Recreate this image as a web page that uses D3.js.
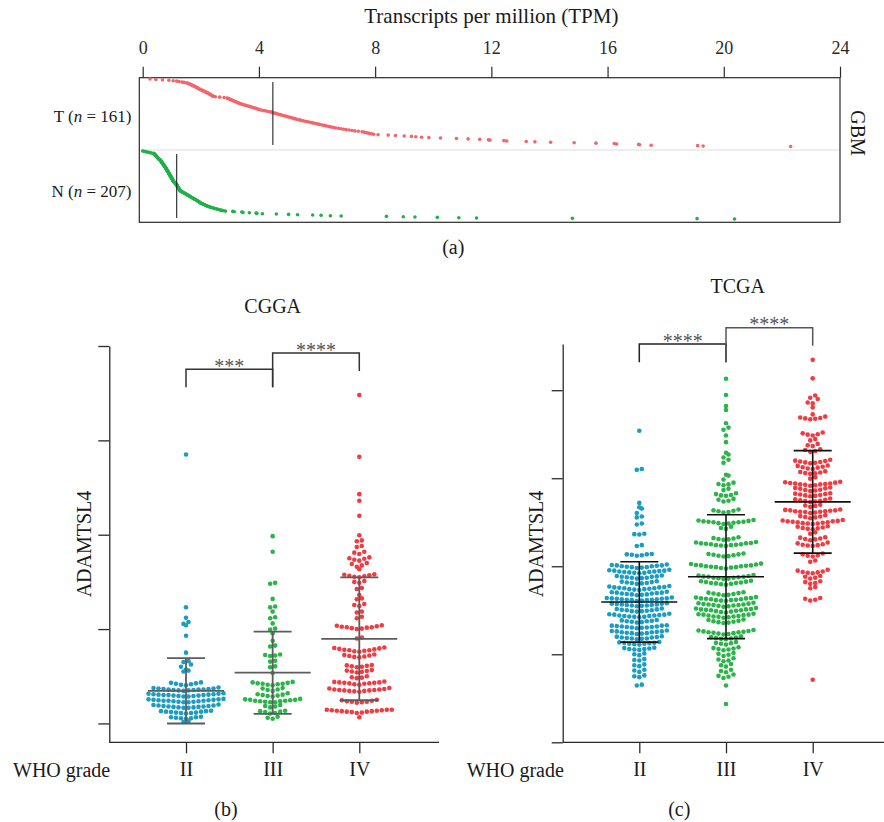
<!DOCTYPE html>
<html>
<head>
<meta charset="utf-8">
<script src="https://cdn.jsdelivr.net/npm/d3@7"></script>
<style>
  body { margin: 0; background: #fff; }
  svg text { font-family: "Liberation Serif", "Times New Roman", serif; }
</style>
</head>
<body>
<div id="canvas"></div>
<script>
"use strict"

/* ---------- data ---------- */

/* (a) GBM expression in TPM, tumour and normal samples */
let gbmTumor = [0.25,0.45,0.68,0.9,1.05,1.17,1.25,1.35,1.42,1.5,
  1.55,1.58,1.62,1.65,1.68,1.71,1.74,1.77,1.8,1.83,1.86,1.88,1.91,1.93,1.96,1.98,
  2.02,2.05,2.08,2.11,2.14,2.17,2.2,2.23,2.26,2.28,2.31,2.33,2.36,2.38,2.41,2.43,
  2.5,2.65,2.8,
  2.9,2.93,2.97,3.0,3.04,3.07,3.1,3.14,3.17,3.2,3.24,3.27,3.3,3.34,3.38,3.42,3.47,
  3.52,3.57,3.62,3.67,3.72,3.77,3.82,3.87,3.91,3.95,4.0,4.04,
  4.1,4.18,4.25,4.32,4.4,4.45,4.48,
  4.55,4.6,4.65,4.7,4.75,4.8,4.86,4.92,4.97,5.02,5.08,5.13,5.18,5.23,5.28,5.34,5.4,
  5.45,5.52,5.58,5.65,5.72,5.79,5.85,5.92,5.99,6.05,6.1,6.17,6.24,6.3,6.37,6.43,6.5,
  6.57,6.65,6.74,6.83,6.92,7.0,7.1,7.2,7.3,7.42,7.55,
  7.62,7.68,7.74,7.8,7.88,7.95,
  8.1,8.45,8.7,9.0,9.25,9.4,9.6,9.85,10.25,10.8,11.2,11.6,11.9,11.95,12.43,12.53,
  13.2,13.5,14.04,14.85,15.6,16.23,16.31,17.07,17.1,17.5,19.1,19.29,22.3];

let gbmNormal = [0.0,0.05,0.1,0.15,0.2,0.25,0.3,0.37,
  0.39,0.4,0.41,0.42,0.43,0.44,0.45,0.46,0.47,0.48,0.49,0.5,0.51,0.52,0.53,0.54,0.55,0.56,0.58,0.6,
  0.61,0.62,0.62,0.63,0.64,0.65,0.66,0.66,0.67,0.68,0.69,0.7,0.7,0.71,0.72,
  0.73,0.74,0.74,0.75,0.76,0.77,0.77,0.78,0.79,0.8,0.8,0.81,0.82,0.82,0.83,
  0.84,0.84,0.85,0.86,0.86,0.87,0.88,0.88,0.89,0.9,0.9,0.91,0.92,0.92,0.93,
  0.94,0.94,0.95,0.96,0.96,0.97,0.98,0.98,0.99,1.0,1.0,1.01,1.02,1.02,1.03,
  1.04,1.04,1.05,1.05,1.06,
  1.07,1.08,1.09,1.1,1.11,1.12,1.13,1.14,1.15,1.16,1.17,
  1.18,1.18,1.19,1.2,1.2,1.21,1.22,1.22,1.23,1.24,1.24,1.25,1.26,1.26,1.27,1.28,1.28,
  1.3,1.32,1.34,1.36,1.38,1.4,1.42,1.44,1.46,1.48,1.5,1.52,1.54,1.56,1.58,1.6,1.62,1.63,
  1.65,1.67,1.69,1.71,1.73,1.75,1.77,1.79,1.81,1.83,1.85,1.87,1.89,1.9,1.92,1.94,1.95,1.97,1.98,
  2.0,2.03,2.05,2.08,2.1,2.13,2.15,2.18,2.2,2.23,2.26,2.29,2.32,
  2.36,2.4,2.44,2.48,2.52,2.56,2.6,2.64,2.68,2.72,2.78,2.85,
  3.1,3.15,3.41,3.45,3.67,3.9,3.93,4.12,4.6,5.02,5.33,5.85,6.14,6.46,6.83,
  8.39,8.97,9.37,10.14,10.88,11.49,14.79,19.08,20.37];

let tpmTicks = [0, 4, 8, 12, 16, 20, 24];

/* (b) CGGA, ADAMTSL4 expression by WHO grade */
let grades = ["II", "III", "IV"];
let exprTicks = [0, 2, 4, 6, 8];

let cggaII = [5.70, 2.46, 2.24, 2.15, 2.11, 2.08, 1.86, 1.50,
  1.32, 1.30, 1.25, 1.20, 1.14, 1.12, 1.10,
  0.81, 0.82, 0.83, 0.84, 0.85, 0.86, 0.87,
  0.69, 0.70, 0.70, 0.71, 0.71, 0.72, 0.72, 0.72, 0.73, 0.73, 0.74, 0.74, 0.75, 0.76,
  0.57, 0.57, 0.58, 0.58, 0.59, 0.59, 0.60, 0.60, 0.60, 0.61, 0.61, 0.62, 0.62, 0.63, 0.63, 0.64,
  0.45, 0.45, 0.46, 0.46, 0.47, 0.47, 0.48, 0.48, 0.48, 0.49, 0.49, 0.50, 0.50, 0.51, 0.51, 0.52,
  0.33, 0.33, 0.34, 0.34, 0.35, 0.35, 0.36, 0.36, 0.37, 0.37, 0.38, 0.38, 0.39, 0.40,
  0.21, 0.22, 0.22, 0.23, 0.23, 0.24, 0.25, 0.25, 0.26, 0.26, 0.27,
  0.10, 0.11, 0.11, 0.12, 0.13, 0.13, 0.14,
  0.03, 0.05];

let cggaIII = [3.97, 3.64, 2.98, 2.96, 2.64, 2.48, 2.46, 2.37, 2.25, 2.23, 2.12, 2.01, 1.99,
  1.91, 1.75, 1.65, 1.63, 1.46, 1.45, 1.44, 1.43, 1.33, 1.31, 1.21, 1.19, 1.07,
  0.81, 0.82, 0.83, 0.84, 0.84, 0.85, 0.86, 0.87, 0.88,
  0.69, 0.71, 0.72, 0.74, 0.75,
  0.57, 0.58, 0.59, 0.60, 0.61, 0.62, 0.64,
  0.45, 0.45, 0.46, 0.47, 0.47, 0.48, 0.48, 0.49, 0.50, 0.50, 0.51, 0.52,
  0.34, 0.36, 0.37, 0.39,
  0.21, 0.22, 0.24, 0.25, 0.26, 0.27,
  0.10, 0.12, 0.14];

let cggaIV = [6.96, 5.65, 4.86, 4.72, 4.40, 3.99,
  3.86, 3.88, 3.74, 3.76, 3.59, 3.62, 3.64, 3.45, 3.47, 3.49, 3.50, 3.52,
  3.32, 3.35, 3.38, 3.40, 3.27,
  3.10, 3.11, 3.12, 3.13, 3.14, 3.15, 3.16,
  2.98, 3.00, 3.02, 2.85, 2.87, 2.72, 2.63, 2.65, 2.49, 2.51, 2.53, 2.35, 2.37, 2.23, 2.26,
  2.00, 2.01, 2.02, 2.03, 2.04, 2.04, 2.05, 2.06, 2.07, 2.08,
  1.80, 1.82,
  1.52, 1.53, 1.54, 1.55, 1.55, 1.56, 1.57, 1.58, 1.59, 1.60, 1.61,
  1.40, 1.41, 1.42, 1.43, 1.44, 1.45, 1.46,
  1.19, 1.20, 1.21, 1.22, 1.23, 1.24,
  1.08, 1.09, 1.10, 1.11, 1.12, 1.13,
  0.96, 0.97, 0.98, 1.00,
  0.82, 0.83, 0.84, 0.85, 0.85, 0.86, 0.86, 0.87, 0.87, 0.88, 0.89,
  0.67, 0.68, 0.69, 0.69, 0.70, 0.70, 0.71, 0.71, 0.72, 0.72, 0.73, 0.74, 0.75,
  0.44, 0.45, 0.46, 0.46, 0.47, 0.48, 0.49, 0.50,
  0.22, 0.23, 0.24, 0.25, 0.25, 0.26, 0.26, 0.27, 0.27, 0.28, 0.28, 0.29, 0.29, 0.29,
  0.13];

/* (c) TCGA, ADAMTSL4 expression by WHO grade */
let tcgaII = [7.08, 6.21, 6.19, 5.44, 5.34, 5.31, 5.21, 5.13, 5.11, 4.97, 4.95,
  4.74, 4.73, 4.72, 4.48, 4.46, 4.28, 4.27, 4.27, 4.26, 4.25, 4.24,
  3.96, 3.97, 3.98, 3.98, 3.99, 4.00, 4.00, 4.01, 4.02, 4.02, 4.03, 4.04,
  3.84, 3.85, 3.85, 3.86, 3.87, 3.87, 3.88, 3.88, 3.89, 3.90, 3.90, 3.91, 3.92,
  3.72, 3.73, 3.74, 3.74, 3.75, 3.76, 3.76, 3.77, 3.78, 3.79,
  3.60, 3.61, 3.62, 3.62, 3.63, 3.64, 3.65, 3.66,
  3.46, 3.47, 3.48, 3.48, 3.49, 3.50, 3.50, 3.51, 3.52, 3.52, 3.53, 3.54, 3.55,
  3.34, 3.35, 3.36, 3.36, 3.37, 3.38, 3.38, 3.39, 3.40, 3.40, 3.41, 3.42,
  3.21, 3.22, 3.23, 3.23, 3.24, 3.24, 3.25, 3.25, 3.26, 3.26, 3.27, 3.27, 3.28, 3.29,
  3.09, 3.10, 3.11, 3.11, 3.12, 3.12, 3.13, 3.13, 3.14, 3.15, 3.15, 3.16,
  2.97, 2.98, 2.98, 2.99, 3.00, 3.00, 3.01, 3.02, 3.03, 3.04,
  2.84, 2.85, 2.85, 2.86, 2.87, 2.87, 2.88, 2.88, 2.89, 2.90, 2.90, 2.91, 2.92,
  2.72, 2.73, 2.74, 2.75, 2.75, 2.76, 2.77, 2.78,
  2.59, 2.60, 2.61, 2.61, 2.62, 2.62, 2.63, 2.63, 2.64, 2.65, 2.65, 2.66,
  2.46, 2.47, 2.48, 2.48, 2.49, 2.50, 2.50, 2.51, 2.52, 2.52, 2.53, 2.54,
  2.34, 2.35, 2.36, 2.36, 2.37, 2.38, 2.38, 2.39, 2.40, 2.41,
  2.22, 2.23, 2.24, 2.24, 2.25, 2.26, 2.26, 2.27, 2.28,
  2.10, 2.11, 2.12, 2.12, 2.13, 2.14, 2.15,
  1.98, 2.00, 2.02, 1.86, 1.87, 1.89, 1.73, 1.75, 1.77, 1.60, 1.63, 1.65, 1.48, 1.50, 1.52,
  1.29, 1.31];

let tcgaIII = [8.26, 7.89, 7.64, 7.55, 7.25, 7.15, 7.10, 6.97, 6.82, 6.58, 6.54, 6.47, 6.42, 6.35,
  6.08, 6.06, 5.97, 5.90, 5.87, 5.86, 5.84,
  5.73, 5.76, 5.60, 5.61, 5.62, 5.64, 5.66, 5.47, 5.49, 5.51, 5.53,
  5.22, 5.23, 5.25, 5.26, 5.27, 5.29,
  4.96, 4.97, 4.98, 4.99, 5.00, 5.00, 5.01, 5.01, 5.02, 5.03, 5.04, 5.05,
  4.85, 4.87, 4.90,
  4.60, 4.61, 4.62, 4.63, 4.64, 4.66,
  4.46, 4.47, 4.48, 4.48, 4.49, 4.50, 4.50, 4.51, 4.52, 4.52, 4.53, 4.54, 4.55,
  4.22, 4.23, 4.24, 4.25, 4.26, 4.27, 4.28, 4.29,
  3.95, 3.96, 3.97, 3.98, 3.98, 3.99, 4.00, 4.00, 4.01, 4.02, 4.02, 4.03, 4.04, 4.05, 4.06,
  3.71, 3.72, 3.73, 3.74, 3.74, 3.75, 3.76, 3.76, 3.77, 3.78, 3.79, 3.80,
  3.58, 3.59, 3.60, 3.61, 3.62, 3.62, 3.63, 3.64, 3.65, 3.66, 3.67,
  3.34, 3.35, 3.36, 3.37, 3.38, 3.39, 3.40, 3.41,
  3.21, 3.22, 3.23, 3.23, 3.24, 3.25, 3.25, 3.26, 3.27, 3.27, 3.28, 3.29, 3.30,
  3.08, 3.09, 3.10, 3.11, 3.12, 3.12, 3.13, 3.13, 3.14, 3.15, 3.16, 3.17,
  2.95, 2.96, 2.97, 2.98, 2.99, 3.00, 3.00, 3.01, 3.02, 3.02, 3.03, 3.04, 3.05,
  2.83, 2.84, 2.85, 2.86, 2.86, 2.87, 2.88, 2.89, 2.90, 2.90, 2.91, 2.92,
  2.71, 2.72, 2.73, 2.74, 2.75, 2.76, 2.78, 2.79,
  2.45, 2.46, 2.47, 2.48, 2.49, 2.50, 2.50, 2.51, 2.52, 2.53, 2.54, 2.55,
  2.34, 2.35, 2.36, 2.37, 2.38, 2.39, 2.41,
  2.22, 2.24, 2.25, 2.26, 2.28,
  2.09, 2.11, 2.12, 2.13, 2.14, 2.16,
  1.96, 1.99, 2.01, 2.03, 1.84, 1.86, 1.88, 1.91, 1.72, 1.75, 1.78, 1.59, 1.62, 1.65,
  1.46, 1.49, 1.51, 1.54,
  1.29, 0.87];

let tcgaIV = [8.69, 8.27, 7.88, 7.83, 7.80, 7.72, 7.70, 7.61, 7.45,
  7.34, 7.35, 7.36, 7.37, 7.38, 7.40,
  6.97, 6.99, 7.00, 7.02, 7.04, 6.86, 6.89, 6.73, 6.75, 6.78, 6.60, 6.62, 6.64, 6.66,
  6.34, 6.35, 6.36, 6.37, 6.38, 6.39, 6.40, 6.42,
  6.21, 6.22, 6.24, 6.25, 6.26, 6.28, 6.29,
  6.10, 6.11, 6.12, 6.13, 6.14, 6.16, 5.99, 6.02,
  5.83, 5.84, 5.85, 5.86, 5.86, 5.87, 5.88, 5.88, 5.89, 5.90, 5.91, 5.92,
  5.71, 5.72, 5.73, 5.74, 5.76, 5.77, 5.78, 5.79,
  5.59, 5.60, 5.61, 5.62, 5.63, 5.64, 5.65, 5.66,
  5.46, 5.47, 5.48, 5.49, 5.50, 5.51, 5.52, 5.54,
  5.35, 5.37, 5.38, 5.40,
  5.21, 5.22, 5.23, 5.24, 5.24, 5.25, 5.25, 5.26, 5.27, 5.27, 5.28, 5.29,
  5.09, 5.11, 5.12, 5.13, 5.14, 5.16,
  4.96, 4.97, 4.97, 4.98, 4.99, 5.00, 5.00, 5.01, 5.02, 5.02, 5.03, 5.04, 5.05,
  4.84, 4.85, 4.86, 4.87, 4.88, 4.90, 4.91,
  4.74, 4.77,
  4.59, 4.61, 4.62, 4.63, 4.65, 4.66,
  4.46, 4.47, 4.48, 4.49, 4.50, 4.52, 4.54,
  4.22, 4.24, 4.25, 4.27, 4.29, 4.10, 4.13,
  3.84, 3.85, 3.86, 3.87, 3.88, 3.90, 3.92,
  3.72, 3.74, 3.76, 3.78, 3.60, 3.62, 3.64, 3.66, 3.50, 3.53,
  3.22, 3.24, 3.26, 3.28,
  1.42];

let gradeColors = ["#1b9cc2", "#2cb44b", "#f03b42"];

/* ---------- canvas ---------- */
let svgWidth = 884;
let svgHeight = 822;

let svg = d3.select("#canvas")
    .append("svg")
    .attr("width", svgWidth)
    .attr("height", svgHeight)
    .attr("fill", "#1a1a1a");

/* ---------- panel (a) ---------- */
let xTpm = d3.scaleLinear()
    .domain([0, 24])
    .range([142.7, 840]);

let boxTop = 77.7, boxBottom = 222.3, boxLeft = 139.3;

svg.append("line")
   .attr("x1", boxLeft).attr("x2", 840)
   .attr("y1", 150).attr("y2", 150)
   .attr("stroke", "#e9e9e9")
   .attr("stroke-width", 1.6);

svg.append("rect")
   .attr("x", boxLeft)
   .attr("y", boxTop)
   .attr("width", 840 - boxLeft)
   .attr("height", boxBottom - boxTop)
   .attr("fill", "none")
   .attr("stroke", "#2a2a2a")
   .attr("stroke-width", 1.2);

let topAxis = svg.append("g")
   .attr("transform", "translate(0," + boxTop + ")")
   .call(d3.axisTop(xTpm).tickValues(tpmTicks).tickSize(11).tickPadding(13));
topAxis.select(".domain").remove();
topAxis.attr("font-size", 18).attr("color", "#2a2a2a");
topAxis.selectAll("line").attr("stroke-width", 1.2);

svg.append("text")
   .attr("x", xTpm(12))
   .attr("y", 23.3)
   .attr("text-anchor", "middle")
   .attr("font-size", 21)
   .text("Transcripts per million (TPM)");

let tpmRows = [
    {label: "T", values: gbmTumor, color: "#f2666b", top: 79, bottom: 146.5, lineTop: 82, lineBottom: 145, baseline: 121.7},
    {label: "N", values: gbmNormal, color: "#22b04b", top: 151, bottom: 219, lineTop: 154, lineBottom: 218, baseline: 196.7}
];

tpmRows.forEach(function(row) {
    let sorted = row.values.slice().sort(d3.ascending);
    let yRank = d3.scaleLinear()
        .domain([0, sorted.length - 1])
        .range([row.top, row.bottom]);

    svg.append("g")
       .selectAll("circle")
       .data(sorted)
       .join("circle")
       .attr("cx", d => xTpm(d))
       .attr("cy", (d, i) => yRank(i))
       .attr("r", 1.8)
       .attr("fill", row.color);

    let med = d3.median(sorted);
    svg.append("line")
       .attr("x1", xTpm(med)).attr("x2", xTpm(med))
       .attr("y1", row.lineTop).attr("y2", row.lineBottom)
       .attr("stroke", "#222")
       .attr("stroke-width", 1.1);

    let label = svg.append("text")
       .attr("x", 131.5)
       .attr("y", row.baseline)
       .attr("text-anchor", "end")
       .attr("font-size", 17);
    label.append("tspan").text(row.label + " (");
    label.append("tspan").attr("font-style", "italic").text("n");
    label.append("tspan").text(" = " + sorted.length + ")");
});

svg.append("text")
   .attr("transform", "translate(850.5,133) rotate(90)")
   .attr("text-anchor", "middle")
   .attr("font-size", 20)
   .text("GBM");

svg.append("text")
   .attr("x", 453.3)
   .attr("y", 254.3)
   .attr("text-anchor", "middle")
   .attr("font-size", 20)
   .text("(a)");

/* ---------- beeswarm layout: bin by value, spread each bin sideways ---------- */
function swarm(values, step, y, cx, gap) {
    let bins = d3.group(values, v => Math.round(v / step));
    let pts = [];
    bins.forEach(function(vs) {
        let s = vs.slice().sort(d3.ascending);
        let n = s.length;
        let offs = d3.range(n)
            .map(j => (j - (n - 1) / 2) * gap)
            .sort((a, b) => Math.abs(a) - Math.abs(b) || a - b);
        s.forEach((v, i) => pts.push({v: v, x: cx + offs[i], y: y(v)}));
    });
    return pts;
}

/* ---------- panels (b) and (c) ---------- */
function drawPanel(p) {
    let g = svg.append("g");
    let xBase = 742.3;

    let x = d3.scalePoint().domain(grades).range(p.xRange);
    let y = d3.scaleLinear().domain(p.yDomain).range([xBase, p.yTop]);

    /* y axis, ticks only */
    let ya = g.append("g")
       .attr("transform", "translate(" + p.axisX + ",0)")
       .call(d3.axisLeft(y).tickValues(exprTicks).tickSize(11).tickSizeOuter(0).tickFormat(""));
    ya.attr("color", "#2a2a2a");
    ya.selectAll("path, line").attr("stroke-width", 1.3);

    /* x axis */
    let xa = g.append("g")
       .attr("transform", "translate(0," + xBase + ")")
       .call(d3.axisBottom(x).tickSize(11).tickPadding(9));
    xa.select(".domain").remove();
    xa.attr("font-size", 20).attr("color", "#2a2a2a");
    xa.selectAll("line").attr("stroke-width", 1.3);
    xa.selectAll("text").attr("fill", "#1a1a1a");

    g.append("line")
       .attr("x1", p.axisX).attr("x2", p.xAxisTo)
       .attr("y1", xBase).attr("y2", xBase)
       .attr("stroke", "#2a2a2a")
       .attr("stroke-width", 1.3);

    g.append("text")
       .attr("x", p.whoX)
       .attr("y", 776.7)
       .attr("font-size", 20)
       .text("WHO grade");

    /* points */
    p.groups.forEach(function(values, gi) {
        let pts = swarm(values, p.step, y, x(grades[gi]), 5.0);
        g.append("g")
           .selectAll("circle")
           .data(pts)
           .join("circle")
           .attr("cx", d => d.x)
           .attr("cy", d => d.y)
           .attr("r", 2.3)
           .attr("fill", gradeColors[gi]);
    });

    /* mean +/- sd bars */
    p.groups.forEach(function(values, gi) {
        let cx = x(grades[gi]);
        let m = d3.mean(values);
        let s = d3.deviation(values);
        let bar = g.append("g")
           .attr("stroke", p.barColor)
           .attr("stroke-width", p.barWidth);
        bar.append("line")
           .attr("x1", cx - 38).attr("x2", cx + 38)
           .attr("y1", y(m)).attr("y2", y(m));
        [m - s, m + s].forEach(function(v) {
            bar.append("line")
               .attr("x1", cx - 19).attr("x2", cx + 19)
               .attr("y1", y(v)).attr("y2", y(v));
        });
        bar.append("line")
           .attr("x1", cx).attr("x2", cx)
           .attr("y1", y(m - s)).attr("y2", y(m + s));
    });

    /* significance brackets */
    p.brackets.forEach(function(b) {
        let x1 = x(b.from), x2 = x(b.to);
        g.append("path")
           .attr("d", "M" + x1 + "," + b.leftEnd + "V" + b.level + "H" + x2 + "V" + b.rightEnd)
           .attr("fill", "none")
           .attr("stroke", b.color)
           .attr("stroke-width", 1.5);
        g.append("text")
           .attr("x", (x1 + x2) / 2)
           .attr("y", b.level + 3.5)
           .attr("text-anchor", "middle")
           .attr("font-size", 20)
           .attr("fill", "#555")
           .text(b.stars);
    });

    /* titles */
    g.append("text")
       .attr("x", p.titleX)
       .attr("y", p.titleY)
       .attr("text-anchor", "middle")
       .attr("font-size", 20)
       .text(p.title);

    g.append("text")
       .attr("transform", "translate(" + p.yLabelX + ",544) rotate(-90)")
       .attr("text-anchor", "middle")
       .attr("font-size", 20)
       .text("ADAMTSL4");

    g.append("text")
       .attr("x", p.letterX)
       .attr("y", 815.5)
       .attr("text-anchor", "middle")
       .attr("font-size", 20)
       .text(p.letter);
}

drawPanel({
    groups: [cggaII, cggaIII, cggaIV],
    xRange: [186, 359.3],
    yDomain: [-0.4, 8],
    yTop: 346,
    axisX: 109.3,
    xAxisTo: 439,
    step: 0.12,
    barColor: "#5c5c5c",
    barWidth: 1.8,
    title: "CGGA", titleX: 272.7, titleY: 313.3,
    yLabelX: 90.5,
    letter: "(b)", letterX: 226,
    whoX: 13,
    brackets: [
        {from: "II", to: "III", level: 369.3, leftEnd: 387.3, rightEnd: 387.3, stars: "***", color: "#333"},
        {from: "III", to: "IV", level: 353, leftEnd: 387.3, rightEnd: 371, stars: "****", color: "#333"}
    ]
});

drawPanel({
    groups: [tcgaII, tcgaIII, tcgaIV],
    xRange: [639.3, 812.7],
    yDomain: [0, 9.05],
    yTop: 344,
    axisX: 562.7,
    xAxisTo: 884,
    step: 0.125,
    barColor: "#111",
    barWidth: 1.6,
    title: "TCGA", titleX: 737.7, titleY: 293,
    yLabelX: 543,
    letter: "(c)", letterX: 679.3,
    whoX: 466.7,
    brackets: [
        {from: "II", to: "III", level: 344, leftEnd: 362.3, rightEnd: 362.3, stars: "****", color: "#222"},
        {from: "III", to: "IV", level: 327.7, leftEnd: 362.3, rightEnd: 345.7, stars: "****", color: "#555"}
    ]
});
</script>
</body>
</html>
